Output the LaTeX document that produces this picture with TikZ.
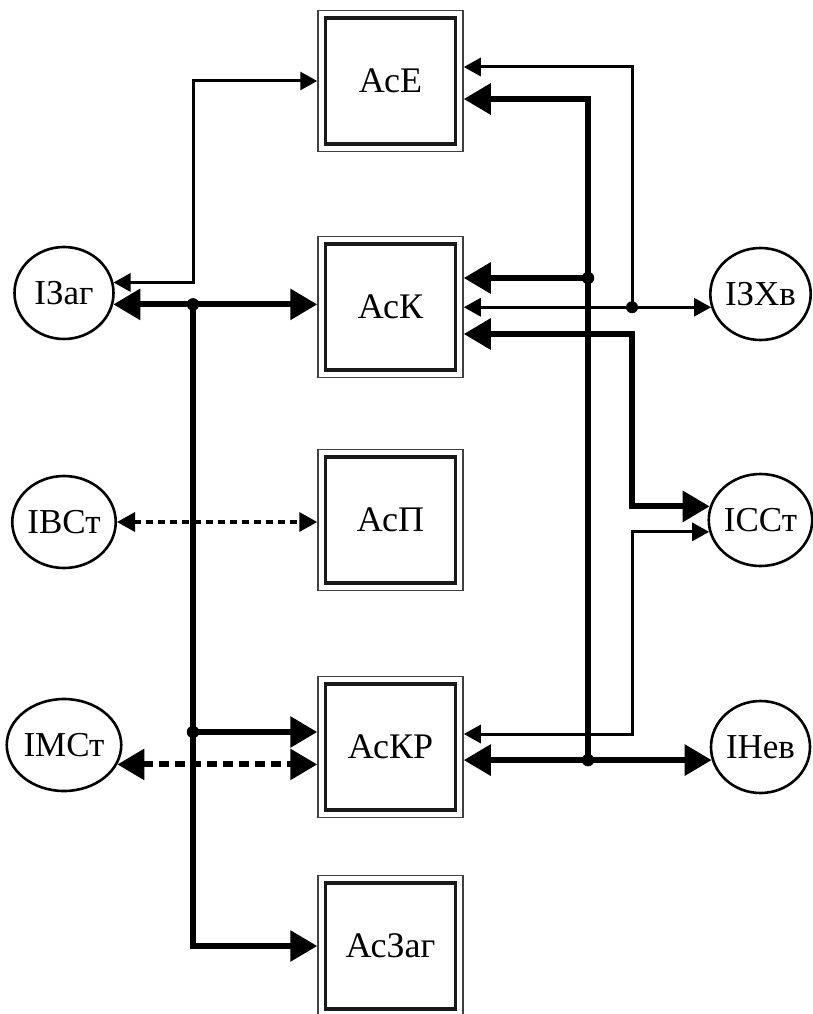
\documentclass[tikz,border=0pt]{standalone}
\usepackage{fontspec}
\setmainfont{Liberation Serif}
\usetikzlibrary{arrows.meta,shapes.geometric,calc}
\begin{document}
\begin{tikzpicture}[x=1pt,y=-1pt,
  Big/.tip={Triangle[length=27pt,width=30pt]},
  Sml/.tip={Triangle[length=17pt,width=18pt]},
  Mid/.tip={Triangle[length=18pt,width=19pt]},
  boxnode/.style={draw=black!75,line width=1.5pt,minimum width=145pt,minimum height=141pt,inner sep=0pt,
    font=\fontsize{36}{42}\selectfont,
    path picture={\draw[line width=3.5pt,black!90]
      ([shift={(7.5pt,7.5pt)}]path picture bounding box.south west) rectangle
      ([shift={(-7.5pt,-7.5pt)}]path picture bounding box.north east);}},
  ell/.style={draw,ellipse,line width=2.6pt,minimum width=99pt,minimum height=92pt,inner sep=0pt,
    font=\fontsize{35}{40}\selectfont},
  thickline/.style={line width=6pt},
  thinline/.style={line width=3pt},
  dashmid/.style={line width=3.6pt,dash pattern=on 7pt off 5pt},
  dashbig/.style={line width=6pt,dash pattern=on 10pt off 6pt},
  dotb/.style={circle,fill=black,inner sep=0pt,minimum size=12.5pt},
  dots/.style={circle,fill=black,inner sep=0pt,minimum size=12pt}]
\useasboundingbox (0,0) rectangle (812,1014);

% boxes
\node[boxnode] (AsE) at (390.5,81) {АсЕ};
\node[boxnode] (AsK) at (390.5,307) {АсК};
\node[boxnode] (AsP) at (390.5,520) {АсП};
\node[boxnode] (AsKR) at (390.5,747) {АсКР};
\node[boxnode] (AsZag) at (390.5,946) {АсЗаг};

% ellipses
\node[ell] (IZag) at (64,293) {ІЗаг};
\node[ell] (IVSt) at (64,522) {ІВСт};
\node[ell] (IMSt) at (64,745) {ІМСт};
\node[ell] (IZKhv) at (760.5,294) {ІЗХв};
\node[ell] (ISSt) at (760.5,520) {ІССт};
\node[ell] (INev) at (760.5,747) {ІНев};

% helper coordinates
\coordinate (xL) at (193,0);
\coordinate (xR1) at (588,0);
\coordinate (xR2) at (632,0);
\coordinate (yE1) at (0,67);
\coordinate (yE2) at (0,99);
\coordinate (yK1) at (0,278);
\coordinate (yK3) at (0,334);
\coordinate (yKR1) at (0,732);
\coordinate (yKR2) at (0,734);

% left side
\draw[thinline,Sml-Sml] (IZag.12) -- (IZag.12 -| xL) |- (AsE.west);
\draw[thickline,Big-Big] (IZag.-13) -- (IZag.-13 -| AsK.west);
\coordinate (jL1) at (IZag.-13 -| xL);
\coordinate (jL2) at (xL |- yKR1);
\draw[thickline,-Big] (jL1) |- (AsZag.west);
\draw[thickline,-Big] (jL2) -- (jL2 -| AsKR.west);
\node[dotb] (dL1) at (jL1) {};
\node[dotb] (dL2) at (jL2) {};
\draw[dashmid,Mid-Mid] (IVSt.east) -- (IVSt.east -| AsP.west);
\draw[dashbig,Big-Big] (IMSt.-20) -- (IMSt.-20 -| AsKR.west);

% right side
\coordinate (jR2) at (xR2 |- IZKhv.195);
\draw[thinline,-Sml] (jR2) |- (AsE.east |- yE1);
\draw[thinline,Sml-Sml] (AsK.east |- IZKhv.195) -- (IZKhv.195);
\node[dots] (dR2) at (jR2) {};

\coordinate (jR1a) at (xR1 |- yK1);
\coordinate (jR1b) at (xR1 |- INev.195);
\draw[thickline,-Big] (jR1b) |- (AsE.east |- yE2);
\draw[thickline,-Big] (jR1a) -- (AsK.east |- yK1);
\draw[thickline,Big-Big] (AsKR.east |- INev.195) -- (INev.195);
\node[dotb] (dR1a) at (jR1a) {};
\node[dotb] (dR1b) at (jR1b) {};

\draw[thickline,Big-Big] (AsK.east |- yK3) -| (xR2 |- ISSt.165) -- (ISSt.165);
\draw[thinline,Sml-Sml] (AsKR.east |- yKR2) -| (xR2 |- ISSt.193) -- (ISSt.193);
\end{tikzpicture}
\end{document}
